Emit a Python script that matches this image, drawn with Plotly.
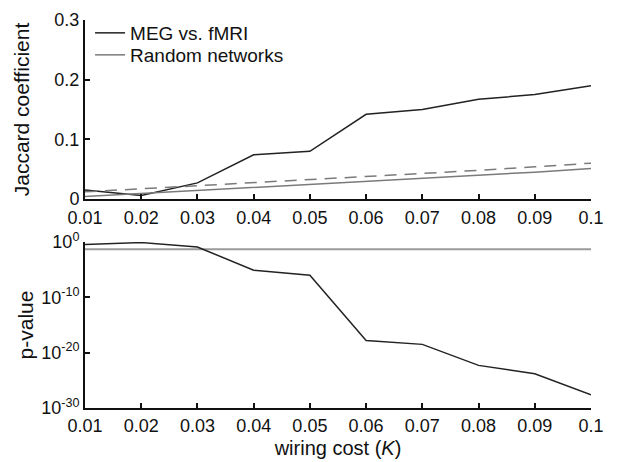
import plotly.graph_objects as go

wiring_cost = [0.01, 0.02, 0.03, 0.04, 0.05, 0.06, 0.07, 0.08, 0.09, 0.1]
x_tick_labels = ["0.01", "0.02", "0.03", "0.04", "0.05", "0.06", "0.07", "0.08", "0.09", "0.1"]

jaccard_meg_fmri = [0.015, 0.006, 0.027, 0.074, 0.080, 0.142, 0.150, 0.167, 0.175, 0.190]
jaccard_random_mean = [0.004, 0.009, 0.014, 0.019, 0.024, 0.029, 0.034, 0.040, 0.045, 0.051]
jaccard_random_upper = [0.012, 0.017, 0.022, 0.027, 0.032, 0.037, 0.042, 0.048, 0.054, 0.060]

pvalue_meg_fmri = [10**-0.45, 10**-0.1, 10**-0.9, 10**-5.1, 10**-6.0,
                   10**-17.8, 10**-18.5, 10**-22.3, 10**-23.8, 10**-27.6]
pvalue_threshold = [0.05] * 10

y_top_ticks = [0, 0.1, 0.2, 0.3]
y_top_labels = ["0", "0.1", "0.2", "0.3"]
y_bot_ticks = [1, 1e-10, 1e-20, 1e-30]
y_bot_labels = ["10<sup>0</sup>", "10<sup>-10</sup>", "10<sup>-20</sup>", "10<sup>-30</sup>"]

BLACK = "#222222"
GRAY = "#7a7a7a"
LIGHTGRAY = "#9a9a9a"

fig = go.Figure()
fig.add_trace(go.Scatter(x=wiring_cost, y=jaccard_meg_fmri, mode="lines", name="MEG vs. fMRI",
                         line=dict(color=BLACK, width=1.5), xaxis="x", yaxis="y", legend="legend"))
fig.add_trace(go.Scatter(x=wiring_cost, y=jaccard_random_mean, mode="lines", name="Random networks",
                         line=dict(color=GRAY, width=1.5), xaxis="x", yaxis="y", legend="legend2"))
fig.add_trace(go.Scatter(x=wiring_cost, y=jaccard_random_upper, mode="lines", showlegend=False,
                         line=dict(color=GRAY, width=1.5, dash="12px,8px"), xaxis="x", yaxis="y"))
fig.add_trace(go.Scatter(x=wiring_cost, y=pvalue_threshold, mode="lines", showlegend=False,
                         line=dict(color=LIGHTGRAY, width=2), xaxis="x2", yaxis="y2"))
fig.add_trace(go.Scatter(x=wiring_cost, y=pvalue_meg_fmri, mode="lines", showlegend=False,
                         line=dict(color=BLACK, width=1.5), xaxis="x2", yaxis="y2"))

font = "Liberation Sans, Arial, sans-serif"
axis_common = dict(showline=True, linecolor="#111111", linewidth=2, ticks="inside", ticklen=5,
                   tickwidth=2, tickcolor="#111111", showgrid=False, zeroline=False,
                   automargin=False,
                   tickfont=dict(family=font, size=18, color="#111111"))

legend_common = dict(xanchor="left", yanchor="middle", bgcolor="rgba(0,0,0,0)",
                     font=dict(family=font, size=19), itemwidth=30)

fig.update_layout(
    width=620, height=462,
    margin=dict(l=85, r=29, t=20, b=54),
    paper_bgcolor="white", plot_bgcolor="white",
    font=dict(family=font, color="#111111"),
    xaxis=dict(domain=[0, 1], anchor="y", range=[0.01, 0.1], tickvals=wiring_cost,
               ticktext=x_tick_labels, ticklabelstandoff=1, **axis_common),
    yaxis=dict(domain=[0.5387, 1], anchor="x", range=[0, 0.3], tickvals=y_top_ticks,
               ticktext=y_top_labels,
               title=dict(text="Jaccard coefficient", font=dict(family=font, size=21), standoff=19),
               **axis_common),
    xaxis2=dict(domain=[0, 1], anchor="y2", range=[0.01, 0.1], tickvals=wiring_cost,
                ticktext=x_tick_labels, ticklabelstandoff=0,
                title=dict(text="wiring cost (<i>K</i>)", font=dict(family=font, size=20), standoff=6),
                **axis_common),
    yaxis2=dict(domain=[0, 0.4278], anchor="x2", type="log", range=[-30, 0], tickvals=y_bot_ticks,
                ticktext=y_bot_labels,
                title=dict(text="p-value", font=dict(family=font, size=21), standoff=2),
                **axis_common),
    legend=dict(x=0.01, y=0.9665, **legend_common),
    legend2=dict(x=0.01, y=0.9098, **legend_common),
)

fig.write_html("out.html")
